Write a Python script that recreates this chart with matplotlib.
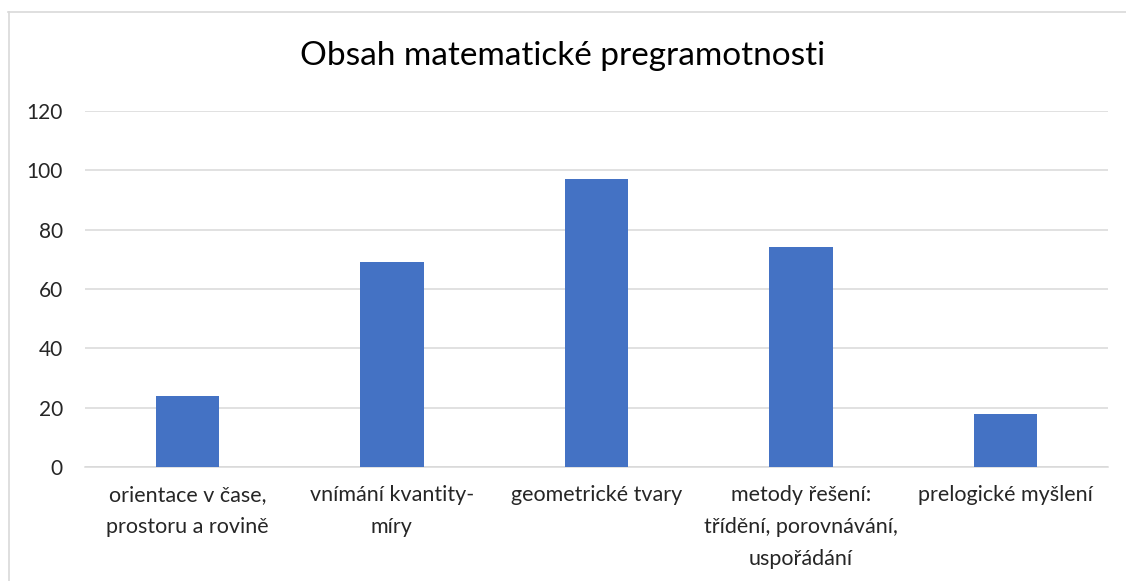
import numpy as np
import matplotlib
matplotlib.use('Agg')
import matplotlib.pyplot as plt
from matplotlib.lines import Line2D

plt.rcParams['font.family'] = ['Lato', 'DejaVu Sans']

# Data
categories = [
    'orientace v čase,\nprostoru a rovině',
    'vnímání kvantity-\nmíry',
    'geometrické tvary',
    'metody řešení:\ntřídění, porovnávání,\nuspořádání',
    'prelogické myšlení',
]
values = [24, 69, 97, 74, 18]
y_ticks = [0, 20, 40, 60, 80, 100, 120]

bar_color = '#4472C4'
grid_color = '#D9D9D9'
text_color = '#262626'

fig = plt.figure(figsize=(11.26, 5.81), dpi=100)
ax = fig.add_axes([85 / 1126, 1 - 467 / 581, (1108 - 85) / 1126, (467 - 111) / 581])

x = np.arange(len(categories))
ax.bar(x, values, width=0.31, color=bar_color, zorder=3)

ax.set_xlim(-0.5, len(categories) - 0.5)
ax.set_ylim(0, 120)
ax.set_yticks(y_ticks)
ax.set_xticks(x)
ax.set_xticklabels(categories, fontsize=15.5, color=text_color, linespacing=1.75, va='top')
ax.tick_params(axis='y', length=0, pad=16, labelsize=15, labelcolor=text_color)
ax.tick_params(axis='x', length=0, pad=13)

ax.grid(axis='y', color=grid_color, linewidth=1.1, zorder=0)
for side in ['top', 'right', 'left']:
    ax.spines[side].set_visible(False)
ax.spines['bottom'].set_color(grid_color)
ax.spines['bottom'].set_linewidth(1.1)

fig.text(0.5, 1 - 56 / 581, 'Obsah matematické pregramotnosti', ha='center', va='center',
         fontsize=24, color='#000000')

# chart border (top and left only are visible in the crop)
fig.add_artist(Line2D([8 / 1126, 1], [1 - 11.5 / 581, 1 - 11.5 / 581], color=grid_color, lw=1.2,
                      transform=fig.transFigure))
fig.add_artist(Line2D([8.5 / 1126, 8.5 / 1126], [0, 1 - 11.5 / 581], color=grid_color, lw=1.2,
                      transform=fig.transFigure))

fig.savefig('out.png', dpi=100)
